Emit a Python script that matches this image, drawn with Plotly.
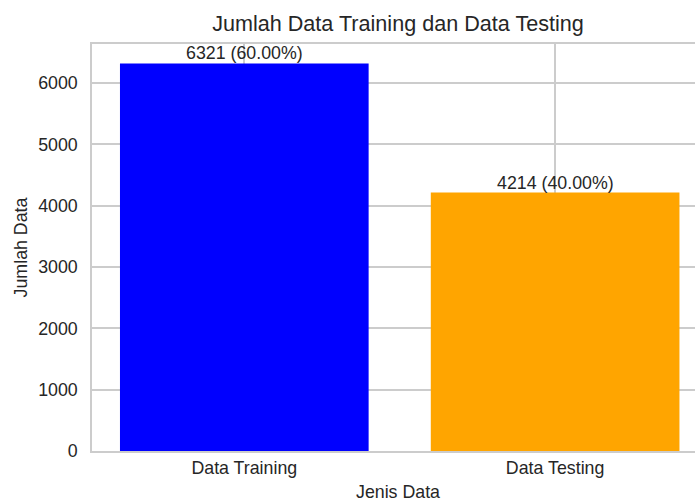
import plotly.graph_objects as go

categories = ["Data Training", "Data Testing"]
counts = [6321, 4214]
bar_colors = ["#0000ff", "#ffa500"]
y_ticks = [0, 1000, 2000, 3000, 4000, 5000, 6000]

total = sum(counts)
labels = [f"{v} ({v / total * 100:.2f}%)" for v in counts]

FONT = "Liberation Sans, Arial, sans-serif"
TXT = "#262626"
GRID = "#cccccc"

fig = go.Figure()
fig.add_trace(go.Bar(
    x=categories, y=counts, marker=dict(color=bar_colors, line=dict(width=0)),
    width=0.8, showlegend=False, hoverinfo="x+y",
))

for c, v, t in zip(categories, counts, labels):
    fig.add_annotation(x=c, y=v, text=t, showarrow=False, xref="x", yref="y",
                       yanchor="bottom", yshift=-2,
                       font=dict(family=FONT, size=17.8, color=TXT))

fig.add_annotation(text="Jenis Data", xref="paper", yref="paper", x=0.5075, y=0,
                   xanchor="center", yanchor="top", yshift=-29, showarrow=False,
                   font=dict(family=FONT, size=17.8, color=TXT))

fig.update_layout(
    width=695, height=502,
    margin=dict(l=92, r=0, t=44, b=51, autoexpand=False),
    paper_bgcolor="white", plot_bgcolor="white",
    font=dict(family=FONT, size=17.8, color=TXT),
    title=dict(text="Jumlah Data Training dan Data Testing", xref="container", yref="container",
               x=398 / 695, y=1 - 23 / 502, xanchor="center", yanchor="middle",
               font=dict(family=FONT, size=21.6, color=TXT)),
    xaxis=dict(type="category", range=[-0.49, 1.45], showgrid=True, gridcolor=GRID, gridwidth=1.5,
               showline=True, linecolor=GRID, linewidth=1.5, mirror=True, automargin=False,
               ticks="", ticklabelstandoff=0, tickfont=dict(size=17.8, color=TXT)),
    yaxis=dict(range=[0, 6637], tickvals=y_ticks, showgrid=True, gridcolor=GRID, gridwidth=1.5,
               showline=True, linecolor=GRID, linewidth=1.5, mirror=False, zeroline=False,
               automargin=False,
               ticks="", ticklabelstandoff=9, tickfont=dict(size=17.8, color=TXT),
               title=dict(text="Jumlah Data", standoff=6, font=dict(size=17.8, color=TXT))),
)

fig.write_html("out.html", config={"displayModeBar": False},
               post_script="document.body.style.margin='0';document.body.style.overflow='hidden';")
